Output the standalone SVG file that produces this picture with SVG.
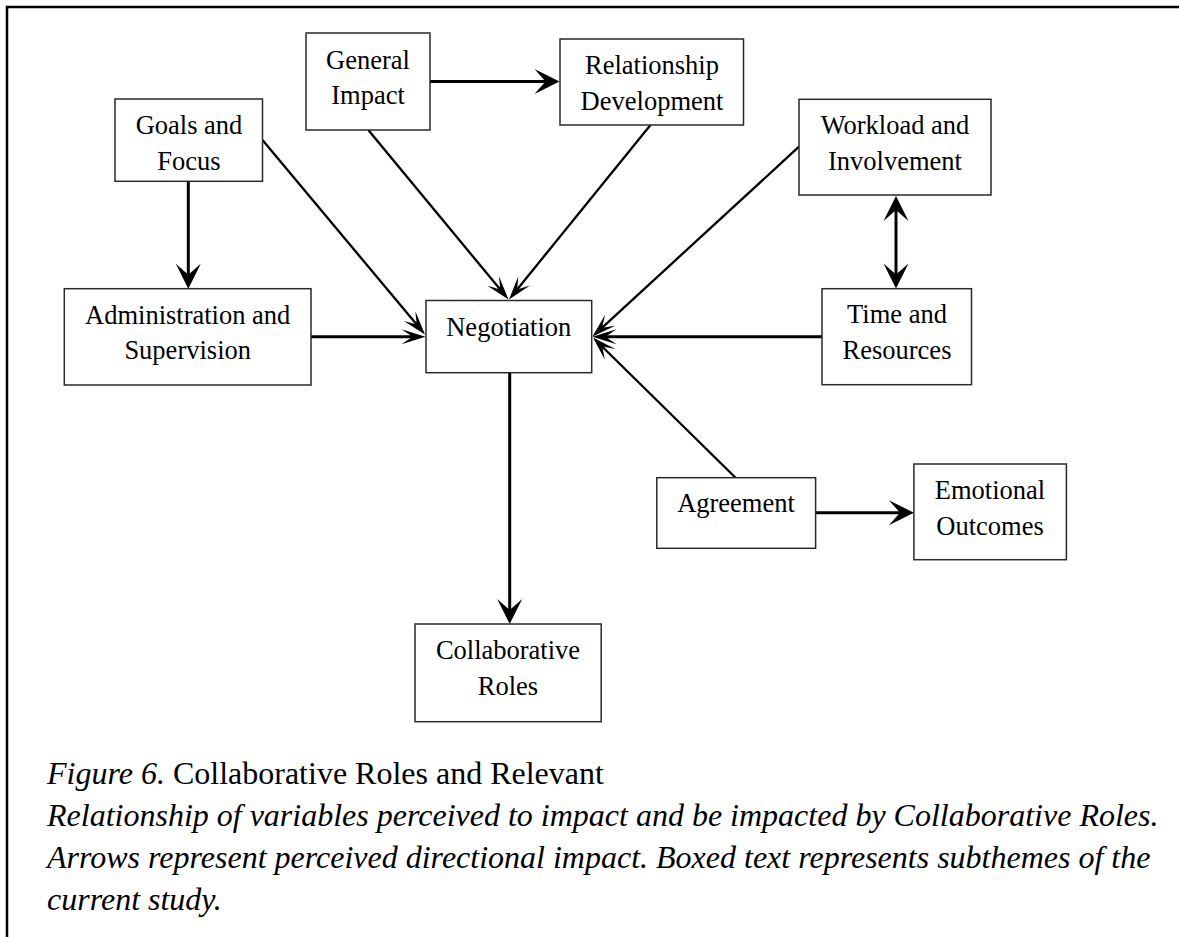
<svg xmlns="http://www.w3.org/2000/svg" width="1179" height="937" viewBox="0 0 1179 937">
<style>
.box{fill:#fff;stroke:#2a2a2a;stroke-width:1.5}
.lbl{font-family:"Liberation Serif","Times New Roman",serif;font-size:26.5px;fill:#000;text-anchor:middle}
.thick{stroke:#000;stroke-width:3;fill:none}
.thin{stroke:#000;stroke-width:2.3;fill:none}
.cap{font-family:"Liberation Serif","Times New Roman",serif;font-size:32px;fill:#000}
</style>
<defs>
<marker id="big" markerUnits="userSpaceOnUse" orient="auto-start-reverse" refX="0" refY="0" markerWidth="30" markerHeight="30" overflow="visible">
<path d="M12,0 L-13,-12.5 L-2,0 L-13,12.5 Z" fill="#000"/>
</marker>
<marker id="sm" markerUnits="userSpaceOnUse" orient="auto" refX="0" refY="0" markerWidth="30" markerHeight="30" overflow="visible">
<path d="M11,0 L-13,-7.5 L-2,0 L-13,7.5 Z" fill="#000"/>
</marker>
</defs>
<rect width="1179" height="937" fill="#fff"/>
<path d="M7,940 V7 H1182" fill="none" stroke="#000" stroke-width="2.5"/>

<g id="connectors">
<line class="thick" x1="430" y1="81.5" x2="547.5" y2="81.5" marker-end="url(#big)"/>
<line class="thick" x1="188.3" y1="181.3" x2="188.3" y2="276.7" marker-end="url(#big)"/>
<line class="thick" x1="509.7" y1="372.7" x2="509.7" y2="612" marker-end="url(#big)"/>
<line class="thick" x1="815.6" y1="512.7" x2="901.9" y2="512.7" marker-end="url(#big)"/>
<line class="thick" x1="896" y1="208" x2="896" y2="276.5" marker-start="url(#big)" marker-end="url(#big)"/>
<line class="thin" x1="262.5" y1="140" x2="417.95" y2="326.06" marker-end="url(#sm)"/>
<line class="thin" x1="368.5" y1="130.3" x2="501.49" y2="291.02" marker-end="url(#sm)"/>
<line class="thin" x1="650.7" y1="124.7" x2="515.93" y2="290.95" marker-end="url(#sm)"/>
<line class="thick" x1="311" y1="336.7" x2="414.5" y2="336.7" marker-end="url(#sm)"/>
<line class="thin" x1="799" y1="146.7" x2="600.6" y2="329.06" marker-end="url(#sm)"/>
<line class="thick" x1="822" y1="336.7" x2="603.5" y2="336.7" marker-end="url(#sm)"/>
<line class="thin" x1="735.6" y1="477.7" x2="600.84" y2="345.21" marker-end="url(#sm)"/>
</g>

<g id="general-impact">
<rect class="box" x="306" y="33" width="124" height="97"/>
<text class="lbl" x="368" y="68.5">General</text>
<text class="lbl" x="368" y="104">Impact</text>
</g>
<g id="relationship-development">
<rect class="box" x="560" y="39" width="183.5" height="86"/>
<text class="lbl" x="652" y="74">Relationship</text>
<text class="lbl" x="652" y="109.5">Development</text>
</g>
<g id="goals-focus">
<rect class="box" x="115" y="99" width="147.5" height="82.3"/>
<text class="lbl" x="189" y="134">Goals and</text>
<text class="lbl" x="189" y="169.5">Focus</text>
</g>
<g id="workload-involvement">
<rect class="box" x="799" y="99.3" width="192" height="95.7"/>
<text class="lbl" x="895" y="134.3">Workload and</text>
<text class="lbl" x="895" y="169.8">Involvement</text>
</g>
<g id="administration-supervision">
<rect class="box" x="64.3" y="288.7" width="246.7" height="96.3"/>
<text class="lbl" x="187.7" y="323.5">Administration and</text>
<text class="lbl" x="187.7" y="359.2">Supervision</text>
</g>
<g id="negotiation">
<rect class="box" x="426" y="300.5" width="165.7" height="72.2"/>
<text class="lbl" x="508.8" y="335.5">Negotiation</text>
</g>
<g id="time-resources">
<rect class="box" x="822" y="288.7" width="149.5" height="96"/>
<text class="lbl" x="897" y="323.3">Time and</text>
<text class="lbl" x="897" y="359">Resources</text>
</g>
<g id="agreement">
<rect class="box" x="656.8" y="477.7" width="158.8" height="70.6"/>
<text class="lbl" x="736" y="512">Agreement</text>
</g>
<g id="emotional-outcomes">
<rect class="box" x="913.9" y="464" width="152.5" height="95.7"/>
<text class="lbl" x="990" y="499">Emotional</text>
<text class="lbl" x="990" y="534.5">Outcomes</text>
</g>
<g id="collaborative-roles">
<rect class="box" x="415" y="624" width="186.2" height="97.7"/>
<text class="lbl" x="508" y="659">Collaborative</text>
<text class="lbl" x="508" y="694.5">Roles</text>
</g>

<g id="caption">
<text class="cap" x="47" y="784"><tspan font-style="italic">Figure 6.</tspan> Collaborative Roles and Relevant</text>
<text class="cap" x="47" y="826" font-style="italic">Relationship of variables perceived to impact and be impacted by Collaborative Roles.</text>
<text class="cap" x="47" y="868" font-style="italic">Arrows represent perceived directional impact. Boxed text represents subthemes of the</text>
<text class="cap" x="47" y="910" font-style="italic">current study.</text>
</g>
</svg>
